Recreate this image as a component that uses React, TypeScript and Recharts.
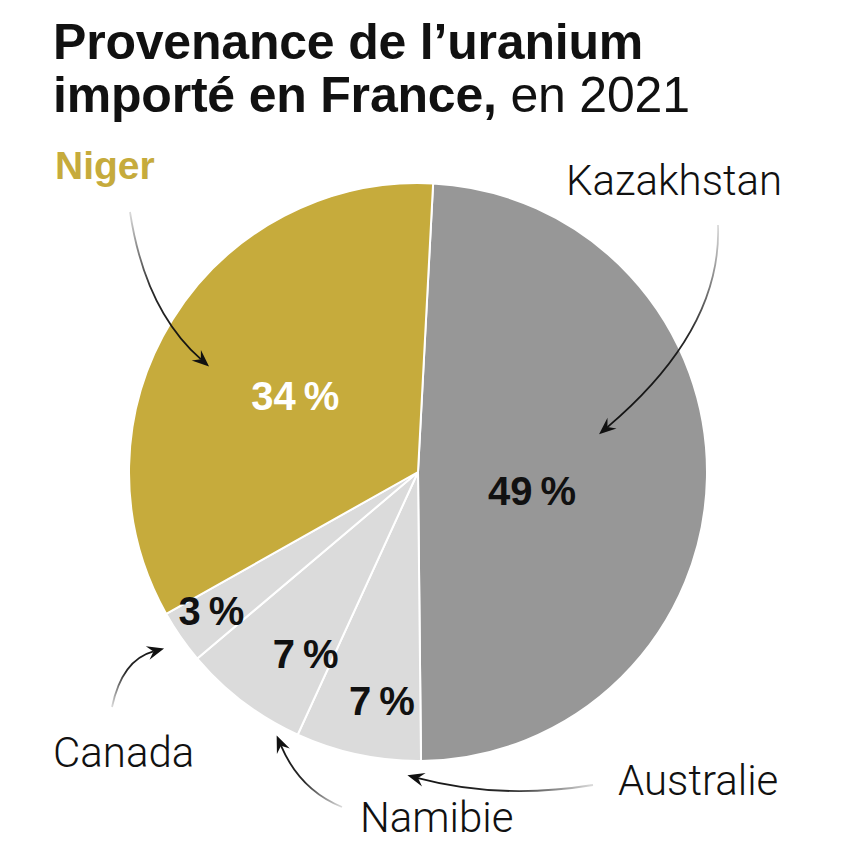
import React from "react";
import { PieChart, Pie, Cell } from "recharts";

// Provenance de l'uranium importé en France, 2021 (% des importations)
const COUNTRIES = ["Kazakhstan", "Australie", "Namibie", "Canada", "Niger"];
const SHARES = [49, 7, 7, 3, 34];

const GOLD = "#C6AB3C";
const COLORS: Record<string, string> = {
  Kazakhstan: "#979797",
  Australie: "#DBDBDB",
  Namibie: "#DBDBDB",
  Canada: "#DBDBDB",
  Niger: GOLD,
};

const SANS = "'Liberation Sans', Arial, Helvetica, sans-serif";
const LIGHT = "Roboto, 'Liberation Sans', Arial, sans-serif";

// where the % goes inside each slice (fraction of radius, angle nudge in degrees)
const PCT_POS: Record<string, { rf: number; dt: number }> = {
  Kazakhstan: { rf: 0.4, dt: 8 },
  Australie: { rf: 0.8, dt: -3 },
  Namibie: { rf: 0.74, dt: -5.5 },
  Canada: { rf: 0.86, dt: 1 },
  Niger: { rf: 0.5, dt: 0 },
};

// country names + curved arrows (arrow tip is taken from the slice geometry)
const NAME_POS: Record<string, { x: number; y: number; bold?: boolean }> = {
  Niger: { x: 55, y: 179, bold: true },
  Kazakhstan: { x: 566, y: 195 },
  Canada: { x: 53, y: 767 },
  Namibie: { x: 360, y: 832 },
  Australie: { x: 618, y: 795 },
};

const ARROWS: Record<string, { from: [number, number]; ctrl: [number, number]; rf: number; dt: number }> = {
  Niger: { from: [130, 212], ctrl: [145, 310], rf: 0.81, dt: -5 },
  Kazakhstan: { from: [718, 225], ctrl: [722, 330], rf: 0.64, dt: -13 },
  Canada: { from: [112, 707], ctrl: [122, 660], rf: 1.07, dt: 0 },
  Namibie: { from: [342, 807], ctrl: [300, 790], rf: 1.035, dt: -9 },
  Australie: { from: [593, 785], ctrl: [500, 800], rf: 1.05, dt: -10 },
};

const RAD = Math.PI / 180;
// theta in degrees clockwise from 12 o'clock
const polar = (cx: number, cy: number, r: number, theta: number): [number, number] => [
  cx + r * Math.sin(theta * RAD),
  cy - r * Math.cos(theta * RAD),
];

function Arrow({ id, from, ctrl, tip }: { id: string; from: [number, number]; ctrl: [number, number]; tip: [number, number] }) {
  const dx = tip[0] - ctrl[0];
  const dy = tip[1] - ctrl[1];
  const len = Math.hypot(dx, dy) || 1;
  const ux = dx / len;
  const uy = dy / len;
  const nx = -uy;
  const ny = ux;
  const L = 17;
  const W = 7;
  const back = [tip[0] - L * ux, tip[1] - L * uy];
  const notch = [tip[0] - (L - 6) * ux, tip[1] - (L - 6) * uy];
  const head = `M${tip[0]},${tip[1]} L${back[0] + W * nx},${back[1] + W * ny} L${notch[0]},${notch[1]} L${back[0] - W * nx},${back[1] - W * ny} Z`;
  return (
    <g>
      <defs>
        <linearGradient id={id} gradientUnits="userSpaceOnUse" x1={from[0]} y1={from[1]} x2={tip[0]} y2={tip[1]}>
          <stop offset="0%" stopColor="#111" stopOpacity={0.15} />
          <stop offset="45%" stopColor="#111" stopOpacity={0.9} />
          <stop offset="100%" stopColor="#111" stopOpacity={1} />
        </linearGradient>
      </defs>
      <path
        d={`M${from[0]},${from[1]} Q${ctrl[0]},${ctrl[1]} ${notch[0]},${notch[1]}`}
        fill="none"
        stroke={`url(#${id})`}
        strokeWidth={1.8}
      />
      <path d={head} fill="#111" />
    </g>
  );
}

function renderLabel(props: any) {
  const { cx, cy, midAngle, outerRadius, index, value } = props;
  const name = COUNTRIES[index];
  const theta = 90 - midAngle;
  const p = PCT_POS[name];
  const [px, py] = polar(cx, cy, outerRadius * p.rf, theta + p.dt);
  const a = ARROWS[name];
  const tip = polar(cx, cy, outerRadius * a.rf, theta + a.dt);
  const n = NAME_POS[name];
  return (
    <g key={name}>
      <text
        x={px}
        y={py}
        dy="0.36em"
        textAnchor="middle"
        fontFamily={SANS}
        fontWeight={700}
        fontSize={40}
        fill={name === "Niger" ? "#fff" : "#111"}
      >
        {`${value}\u2009%`}
      </text>
      <text
        x={n.x}
        y={n.y}
        fontFamily={n.bold ? SANS : LIGHT}
        fontWeight={n.bold ? 700 : 300}
        fontSize={n.bold ? 39 : 42}
        fill={n.bold ? GOLD : "#111"}
      >
        {name}
      </text>
      <Arrow id={`arrow-${index}`} from={a.from} ctrl={a.ctrl} tip={tip} />
    </g>
  );
}

const titleLine: React.CSSProperties = {
  position: "absolute",
  left: 53,
  fontFamily: SANS,
  fontSize: 50,
  lineHeight: "48px",
  color: "#111",
  letterSpacing: -0.2,
  whiteSpace: "nowrap",
  zIndex: 2,
};

export default function App() {
  const data = COUNTRIES.map((name, i) => ({ name, value: SHARES[i] }));

  return (
    <div style={{ position: "relative", width: 843, height: 857, background: "#fff" }}>
      <style>{`body{margin:0;background:#fff}`}</style>
      <div style={{ ...titleLine, top: 18, fontWeight: 700 }}>Provenance de l’uranium</div>
      <div style={{ ...titleLine, top: 71 }}>
        <span style={{ fontWeight: 700 }}>importé en France,</span>
        <span style={{ fontWeight: 400 }}> en 2021</span>
      </div>
      <PieChart width={843} height={857} margin={{ top: 0, right: 0, bottom: 0, left: 0 }}>
        <Pie
          data={data}
          dataKey="value"
          nameKey="name"
          cx={418}
          cy={472}
          outerRadius={289}
          startAngle={87}
          endAngle={-273}
          stroke="#fff"
          strokeWidth={2}
          label={renderLabel}
          labelLine={false}
          isAnimationActive={false}
        >
          {data.map((d) => (
            <Cell key={d.name} fill={COLORS[d.name]} />
          ))}
        </Pie>
      </PieChart>
    </div>
  );
}
